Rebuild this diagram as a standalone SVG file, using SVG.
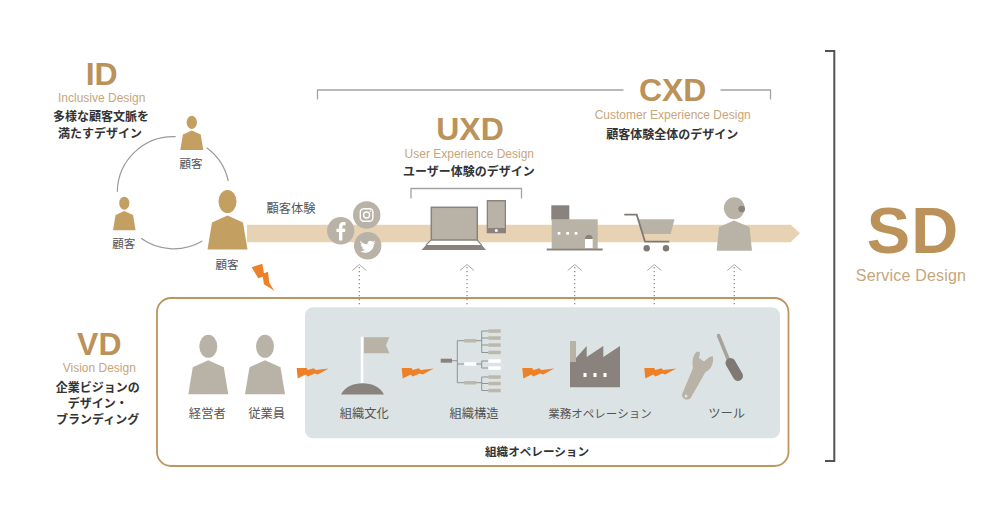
<svg xmlns="http://www.w3.org/2000/svg" xmlns:xlink="http://www.w3.org/1999/xlink" width="1000" height="510" viewBox="0 0 1000 510">
<style>
text{font-family:"Liberation Sans","Noto Sans CJK JP",sans-serif;text-anchor:middle}
.big{font-weight:700;fill:#bb925a;font-size:32px}
.sub{fill:#c6a67b;font-size:12px}
.jb{font-family:"Noto Sans CJK JP",sans-serif;font-weight:700;fill:#333;font-size:12px}
.jn{font-family:"Noto Sans CJK JP",sans-serif;fill:#555;font-size:11.5px}
.br{fill:none;stroke:#a3a3a3;stroke-width:1.3}
.arc{fill:none;stroke:#9a9a9a;stroke-width:1.2}
.dot{fill:none;stroke:#8f8f8f;stroke-width:1.3;stroke-dasharray:1.3 2.7}
.chev{fill:none;stroke:#a8a8a8;stroke-width:1}
.g{fill:#b9b3a7}.d{fill:#8a827c}.t{fill:#c49f62}.w{fill:#fff}.o{fill:#ee8127}
.leaf{fill:#bdb8ac}
.ol{stroke:#8d8a86;stroke-width:1.1;fill:none}
</style>
<defs>
<g id="person"><path d="M-20 0L-15.5-27L0-34L15.5-27L20 0Z"/><ellipse cx="0" cy="-48" rx="9" ry="11.5"/></g>
<path id="bolt" d="M0 .5L10 .5L11 2.500L17 .8L19 2.500L32 1L21 7L18 6L11 9L9 7L1 11Z" fill="#ee8127"/>
</defs>
<rect width="1000" height="510" fill="#fff"/>

<g id="connectors">
<path class="br" d="M317.500 99.500V90H623.500M720.500 90H770.500V99.500"/>
<path class="br" d="M411 198.500V188.500H521.500V198.500"/>
<path d="M825 51H834.300V461H825" fill="none" stroke="#55524f" stroke-width="2"/>
<path class="arc" d="M175.700 136.700A56 56 0 0 0 117.300 191.700"/>
<path class="arc" d="M206.700 147.700A56 56 0 0 1 228.300 181"/>
<path class="arc" d="M141 238.300A56 56 0 0 0 202.300 241"/>
<path d="M247 224.700H790.500L786.700 221L800 233.300L786.700 246L790.500 242.300H247Z" fill="#e7d3b4"/>
<path class="dot" d="M359.300 267V307M467 267V307M574.700 267V307M654.300 267V307M734.300 267V307"/>
<path class="chev" d="M352.300 270.500L359.300 264.500L366.300 270.500M460 270.500L467 264.500L474 270.500M567.700 270.500L574.700 264.500L581.700 270.500M647.300 270.500L654.300 264.500L661.300 270.500M727.300 270.500L734.300 264.500L741.300 270.500"/>
</g>

<g id="id-label">
<text class="big" x="101.700" y="85">ID</text>
<text class="sub" x="101.700" y="102">Inclusive Design</text>
<text class="jb" x="101" y="120.500">多様な顧客文脈を</text>
<text class="jb" x="100" y="138">満たすデザイン</text>
</g>
<g id="customer-top"><use href="#person" class="t" transform="translate(191.800 150) scale(.575)"/><text class="jn" x="191" y="168">顧客</text></g>
<g id="customer-left"><use href="#person" class="t" transform="translate(124.300 230.300) scale(.565)"/><text class="jn" x="123.700" y="248">顧客</text></g>
<g id="customer-main"><use href="#person" class="t" transform="translate(227.500 249.500)"/><text class="jn" x="227" y="269">顧客</text></g>
<g id="journey-label"><text class="jn" x="291" y="213" style="font-size:12.300px">顧客体験</text></g>
<polygon id="bolt-customer" class="o" points="251.700,267.300 262.300,263.700 264,273.300 268,271.700 269.300,282.700 274.300,290.700 264,284.300 262.700,276.700 258.300,278.300"/>

<g id="uxd-label">
<text class="big" x="470" y="139.500">UXD</text>
<text class="sub" x="469.300" y="157.500">User Experience Design</text>
<text class="jb" x="469" y="176">ユーザー体験のデザイン</text>
</g>
<g id="cxd-label">
<text class="big" x="672.700" y="100.800">CXD</text>
<text class="sub" x="672.700" y="119.300">Customer Experience Design</text>
<text class="jb" x="672.300" y="139.300">顧客体験全体のデザイン</text>
</g>
<g id="sd-label">
<text class="big" x="913" y="252.500" style="font-size:65px;letter-spacing:1px">SD</text>
<text class="sub" x="911" y="280.800" style="font-size:16px;letter-spacing:.2px">Service Design</text>
</g>

<g id="social">
<circle class="g" cx="340.700" cy="230.700" r="13.700"/>
<path class="w" d="M339 240.500V232H336.500V228.700H339V226.500C339 223.500 340.800 222 343.300 222H345.500V225.200H344C342.700 225.200 342.400 225.800 342.400 226.800V228.700H345.400L345 232H342.400V240.500Z"/>
<circle class="g" cx="366.700" cy="215" r="13.700"/>
<rect x="360.300" y="208.700" width="12.600" height="12.600" rx="3.500" fill="none" stroke="#fff" stroke-width="1.400"/>
<circle cx="366.600" cy="215" r="3" fill="none" stroke="#fff" stroke-width="1.400"/>
<circle class="w" cx="370.300" cy="211.300" r=".8"/>
<circle class="g" cx="367.700" cy="245.700" r="13.700"/>
<path class="w" d="M360 240.500C362 243 364.500 244.200 367.500 244.300C367 241.500 370.500 239.500 372.700 241.800C373.700 241.600 374.500 241.300 375.200 240.800C375 241.800 374.300 242.500 373.600 243C374.400 242.900 375 242.700 375.700 242.400C375.200 243.200 374.500 243.800 373.800 244.300C374 248.500 370.500 252.700 365.500 252.700C363.500 252.700 361.700 252.100 360.200 251.200C362 251.400 363.700 250.900 365 249.800C363.500 249.800 362.300 248.800 361.900 247.500C362.400 247.600 362.900 247.600 363.400 247.400C361.800 247 360.700 245.600 360.700 244C361.200 244.300 361.700 244.400 362.300 244.500C360.700 243.400 360.200 242 360 240.500Z"/>
</g>

<g id="laptop-phone">
<path class="w" d="M431 240H477L481.700 245H426Z"/>
<path class="ol" d="M431 240L426 245M477 240L481.700 245"/>
<rect class="g" x="431.300" y="207.300" width="46" height="32.700" stroke="#8a827c" stroke-width="1.500"/>
<path class="d" d="M426 245H481.700L486 250H421.700Z"/>
<rect class="d" x="486.700" y="200" width="19.300" height="33.300"/>
<rect class="g" x="488" y="201.500" width="16.700" height="26.500"/>
<circle class="w" cx="496.300" cy="230.500" r="1.500"/>
</g>

<g id="store">
<rect class="d" x="551.300" y="205.300" width="18" height="14.500"/>
<rect class="g" x="551.700" y="219.300" width="46" height="29.500"/>
<rect class="w" x="557.700" y="232" width="2.700" height="2.700"/><rect class="w" x="566.300" y="232" width="2.700" height="2.700"/><rect class="w" x="574.700" y="232" width="2.700" height="2.700"/>
<rect class="w" x="585" y="238" width="7.700" height="10.300"/>
<path class="d" d="M585 239V238.500C585 236.200 586.700 234.800 588.800 234.800C591 234.800 592.700 236.200 592.700 238.500V239Z"/>
<rect class="d" x="546.700" y="248.500" width="56" height="2"/>
</g>

<g id="cart">
<path class="g" d="M638.300 219.300H674.500L670.700 234H642.300Z"/>
<path d="M624.300 214.700H636.700L645 241.700H669.300" fill="none" stroke="#7f7873" stroke-width="1.800"/>
<circle cx="646.700" cy="248.300" r="3.200" fill="#7f7873"/><circle cx="666" cy="248.300" r="3.200" fill="#7f7873"/>
</g>

<g id="operator">
<ellipse class="g" cx="734.300" cy="208.300" rx="10.500" ry="11"/>
<path class="g" d="M716.700 250.700L719 227L734 220.500L749.500 227L752 250.700Z"/>
<circle class="d" cx="741.700" cy="209" r="3.300"/>
</g>

<g id="operations-frame">
<rect x="157" y="298" width="631.500" height="168" rx="14" fill="none" stroke="#bb965e" stroke-width="1.800"/>
<rect x="305" y="307.300" width="475" height="131" rx="8" fill="#dce3e5"/>
<text class="jb" x="537" y="455.500" style="font-size:11.600px">組織オペレーション</text>
</g>

<g id="vd-label">
<text class="big" x="99.300" y="355">VD</text>
<text class="sub" x="99.300" y="371.500">Vision Design</text>
<text class="jb" x="97.700" y="391.500">企業ビジョンの</text>
<text class="jb" x="97.700" y="408">デザイン・</text>
<text class="jb" x="97.700" y="424">ブランディング</text>
</g>

<g id="executive"><use href="#person" class="g" transform="translate(208.300 394.300)"/><text class="jn" x="207.300" y="417.500" style="font-size:12.300px">経営者</text></g>
<g id="employee"><use href="#person" class="g" transform="translate(265 394.300)"/><text class="jn" x="266.700" y="417.500" style="font-size:12.300px">従業員</text></g>
<use id="bolt1" href="#bolt" x="296.700" y="367.500"/>

<g id="culture">
<rect class="w" x="360.800" y="336.700" width="2.500" height="47"/>
<path class="g" d="M364 337.300H389.300L386 345.300L389.300 353.300H364Z"/>
<path class="d" d="M341 394.500C345 387 353 383.300 362.500 383.300C372 383.300 380 387 384 394.500Z"/>
<text class="jn" x="364.300" y="418" style="font-size:12.300px">組織文化</text>
</g>
<use id="bolt2" href="#bolt" x="401.700" y="367.500"/>

<g id="structure">
<path d="M452 360.700H457.300M457.300 340.700V382.700M457.300 340.700H481.700M457.300 382.700H481.700M457.300 364H464M476 364H481.700M481.700 331V352.500M481.700 377V390.500M481.700 361V368M481.700 331H488.500M481.700 338H488.500M481.700 345H488.500M481.700 352.500H488.500M481.700 361H488.500M481.700 368H488.500M481.700 377H488.500M481.700 383.500H488.500M481.700 390.500H488.500" fill="none" stroke="#8f9395" stroke-width="1"/>
<rect class="d" x="440.700" y="358.700" width="11.300" height="4"/>
<rect class="leaf" x="464.300" y="339" width="12" height="3.500"/><rect class="w" x="464.300" y="362.200" width="12" height="3.500"/><rect class="leaf" x="464.300" y="381" width="12" height="3.500"/>
<rect class="leaf" x="488.300" y="329.300" width="12.400" height="3.500"/><rect class="leaf" x="488.300" y="336.300" width="12.400" height="3.500"/><rect class="leaf" x="488.300" y="343.300" width="12.400" height="3.500"/><rect class="leaf" x="488.300" y="350.700" width="12.400" height="3.500"/>
<rect class="w" x="488.300" y="359.300" width="12.400" height="3.500"/><rect class="w" x="488.300" y="366.300" width="12.400" height="3.500"/>
<rect class="leaf" x="488.300" y="375.300" width="12.400" height="3.500"/><rect class="leaf" x="488.300" y="381.800" width="12.400" height="3.500"/><rect class="leaf" x="488.300" y="388.800" width="12.400" height="3.500"/>
<text class="jn" x="474" y="418" style="font-size:12.300px">組織構造</text>
</g>
<use id="bolt3" href="#bolt" x="522.300" y="367.500"/>

<g id="business-ops">
<rect class="g" x="570" y="341" width="6" height="25"/>
<path class="d" d="M570 387.300V362H576V358L586.700 346V357L603.300 346V357L620 346V387.300Z"/>
<rect class="w" x="583.500" y="373" width="3" height="4"/><rect class="w" x="593.500" y="373" width="3" height="4"/><rect class="w" x="603.500" y="373" width="3" height="4"/>
<text class="jn" x="600" y="418">業務オペレーション</text>
</g>
<use id="bolt4" href="#bolt" x="644.300" y="367.500"/>

<g id="tools">
<path class="g" fill-rule="evenodd" d="M697 351.500L700 352L699 358L704 361.500L709.500 357L712.700 356C714.500 362 711 370 705.500 372L691 397.500C689 401 681.500 400 682 394.500L693 368C692 362 692.500 355 697 351.500ZM684.500 396A1.500 1.500 0 1 0 687.500 396A1.500 1.500 0 1 0 684.500 396Z"/>
<path d="M718.500 335.500L728.500 360" stroke="#a8a299" stroke-width="3.500" stroke-linecap="round" fill="none"/>
<path d="M730.500 363L738 376" stroke="#7f7873" stroke-width="10" stroke-linecap="round" fill="none"/>
<text class="jn" x="726.700" y="418" style="font-size:12.300px">ツール</text>
</g>
</svg>
